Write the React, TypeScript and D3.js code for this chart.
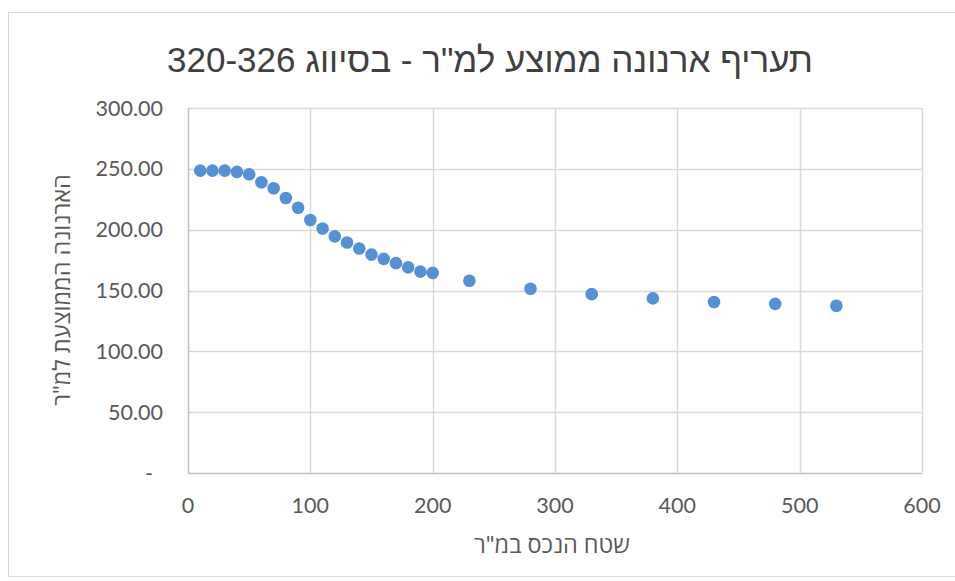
import React from "react";
import * as d3 from "d3";

const areaValues: number[] = [10, 20, 30, 40, 50, 60, 70, 80, 90, 100, 110, 120, 130, 140, 150, 160, 170, 180, 190, 200, 230, 280, 330, 380, 430, 480, 530];
const rateValues: number[] = [248.5, 248.5, 248.5, 247.5, 245.5, 239, 234, 226, 218, 208, 201, 194.5, 189.5, 184.5, 179.5, 176, 172.5, 169, 165.5, 164.5, 158, 151.5, 147, 143.5, 140.5, 139, 137.5];
const xTicks: number[] = [0, 100, 200, 300, 400, 500, 600];
const yTicks: number[] = [0, 50, 100, 150, 200, 250, 300];
const titleText = "תעריף ארנונה ממוצע למ\"ר - בסיווג 320-326";
const xTitle = "שטח הנכס במ\"ר";
const yTitle = "הארנונה הממוצעת למ\"ר";

const W = 955;
const H = 581;

export default function App() {
  const x = d3.scaleLinear().domain([0, 600]).range([188, 922]);
  const y = d3.scaleLinear().domain([0, 300]).range([473, 108]);
  const fmt = (v: number) => (v === 0 ? "-" : d3.format(".2f")(v));
  const labelFont = "Lato, 'Open Sans', 'DejaVu Sans', sans-serif";
  const points = areaValues.map((a, i) => ({ a, r: rateValues[i] }));
  return (
    <div style={{ position: "fixed", left: 0, top: 0 }}>
      <svg width={W} height={H} style={{ display: "block", background: "#fff" }}>
        <rect x={8.5} y={12.5} width={960} height={564} fill="#fff" stroke="#d9d9d9" strokeWidth={1} />
        <text
          x={490}
          y={72}
          textAnchor="middle"
          direction="rtl"
          fontFamily="'Liberation Sans', Arial, sans-serif"
          fontSize={35}
          fill="#404040"
        >
          {titleText}
        </text>
        {yTicks.map((t) => (
          <line key={"gy" + t} x1={x(0)} x2={x(600)} y1={Math.round(y(t)) + 0.5} y2={Math.round(y(t)) + 0.5} stroke={t === 0 ? "#bfbfbf" : "#d9d9d9"} strokeWidth={1.5} />
        ))}
        {xTicks.map((t) => (
          <line key={"gx" + t} x1={Math.round(x(t)) + 0.5} x2={Math.round(x(t)) + 0.5} y1={y(0)} y2={y(300)} stroke={t === 0 ? "#bfbfbf" : "#d9d9d9"} strokeWidth={1.5} />
        ))}
        {yTicks.map((t) => (
          <text key={"ly" + t} x={t === 0 ? 153 : 163} y={y(t)} dy="0.35em" textAnchor="end" fontFamily={labelFont} fontSize={21.5} fill="#595959">
            {fmt(t)}
          </text>
        ))}
        {xTicks.map((t) => (
          <text key={"lx" + t} x={x(t)} y={505} dy="0.35em" textAnchor="middle" fontFamily={labelFont} fontSize={21.5} fill="#595959">
            {t}
          </text>
        ))}
        {points.map((p, i) => (
          <circle key={i} cx={x(p.a)} cy={y(p.r)} r={6.3} fill="#5591d4" />
        ))}
        <text x={552} y={545} dy="0.35em" textAnchor="middle" direction="rtl" fontFamily={labelFont} fontSize={23.5} fill="#595959">
          {xTitle}
        </text>
        <text
          transform={`translate(62, 290) rotate(-90)`}
          dy="0.35em"
          textAnchor="middle"
          direction="rtl"
          fontFamily={labelFont}
          fontSize={23.5}
          fill="#595959"
        >
          {yTitle}
        </text>
      </svg>
    </div>
  );
}
